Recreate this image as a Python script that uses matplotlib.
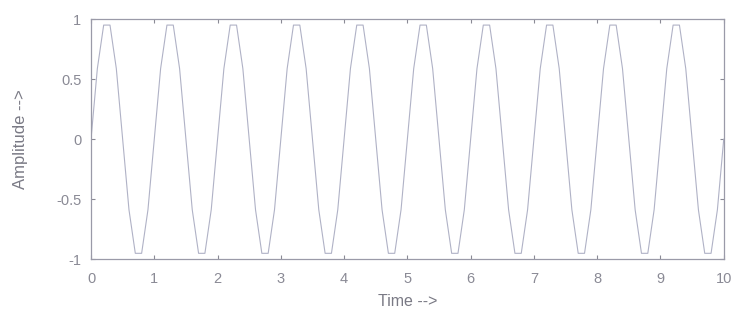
import numpy as np
import matplotlib
matplotlib.use("Agg")
import matplotlib.pyplot as plt

# one cycle of samples (step 0.1, period 1)
cycle = [0.0, 0.588, 0.951, 0.951, 0.588, 0.0, -0.588, -0.951, -0.951, -0.588]
n_cycles = 10
amplitude = np.append(np.tile(cycle, n_cycles), 0.0)
time = np.arange(len(amplitude)) * 0.1

xticks = [0, 1, 2, 3, 4, 5, 6, 7, 8, 9, 10]
yticks = [-1, -0.5, 0, 0.5, 1]
ytick_labels = ["-1", "-0.5", "0", "0.5", "1"]

plt.rcParams['font.family'] = ['Liberation Sans', 'DejaVu Sans']

fig = plt.figure(figsize=(7.34, 3.2), dpi=100)
ax = fig.add_axes([0.124, 0.19, 0.862, 0.75])

ax.plot(time, amplitude, color="#b0b2c6", lw=0.8)

ax.set_xlim(0, 10)
ax.set_ylim(-1, 1)
ax.set_xticks(xticks)
ax.set_yticks(yticks)
ax.set_yticklabels(ytick_labels)
ax.tick_params(direction="in", length=3, colors="#8a8a95", labelsize=10.5,
               top=True, right=True)
ax.tick_params(axis="x", pad=9)
ax.tick_params(axis="y", pad=7)
for s in ax.spines.values():
    s.set_color("#9a9aa8")
    s.set_linewidth(0.9)

ax.set_xlabel("Time -->", color="#7a7a85", fontsize=11.5, labelpad=6)
ax.set_ylabel("Amplitude -->", color="#7a7a85", fontsize=12, labelpad=20)

fig.savefig("out.png", dpi=100, facecolor="white")
